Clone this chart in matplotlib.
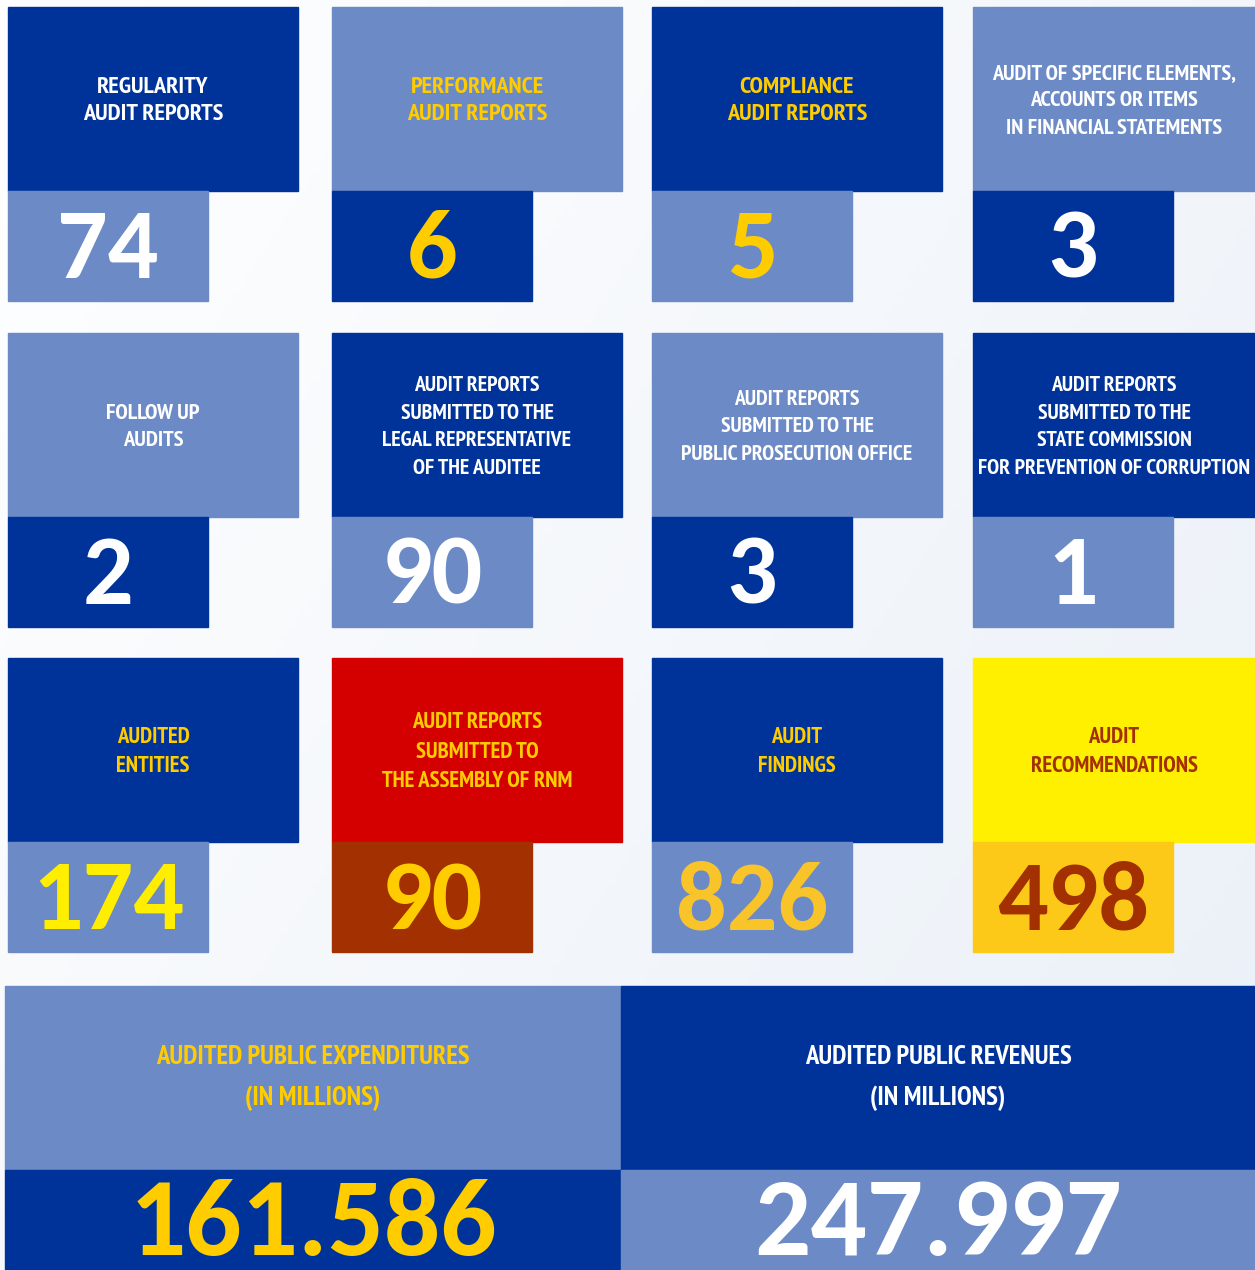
import numpy as np
import matplotlib.pyplot as plt
from matplotlib.colors import LinearSegmentedColormap
from matplotlib.patches import Rectangle

# -----------------------------
# Data
# -----------------------------
titles = [
    "REGULARITY\nAUDIT REPORTS",
    "PERFORMANCE\nAUDIT REPORTS",
    "COMPLIANCE\nAUDIT REPORTS",
    "AUDIT OF SPECIFIC ELEMENTS,\nACCOUNTS OR ITEMS\nIN FINANCIAL STATEMENTS",
    "FOLLOW UP\nAUDITS",
    "AUDIT REPORTS\nSUBMITTED TO THE\nLEGAL REPRESENTATIVE\nOF THE AUDITEE",
    "AUDIT REPORTS\nSUBMITTED TO THE\nPUBLIC PROSECUTION OFFICE",
    "AUDIT REPORTS\nSUBMITTED TO THE\nSTATE COMMISSION\nFOR PREVENTION OF CORRUPTION",
    "AUDITED\nENTITIES",
    "AUDIT REPORTS\nSUBMITTED TO\nTHE ASSEMBLY OF RNM",
    "AUDIT\nFINDINGS",
    "AUDIT\nRECOMMENDATIONS",
]
values = ["74", "6", "5", "3", "2", "90", "3", "1", "174", "90", "826", "498"]

big_titles = ["AUDITED PUBLIC EXPENDITURES\n(IN MILLIONS)",
              "AUDITED PUBLIC REVENUES\n(IN MILLIONS)"]
big_values = ["161.586", "247.997"]

# colours
DARK = "#003399"
LIGHT = "#6C8AC6"
YEL = "#FFCC00"
WHITE = "#FFFFFF"

# (title bg, title text, number bg, number text)
styles = [
    (DARK, WHITE, LIGHT, WHITE),
    (LIGHT, YEL, DARK, YEL),
    (DARK, YEL, LIGHT, YEL),
    (LIGHT, WHITE, DARK, WHITE),
    (LIGHT, WHITE, DARK, WHITE),
    (DARK, WHITE, LIGHT, WHITE),
    (LIGHT, WHITE, DARK, WHITE),
    (DARK, WHITE, LIGHT, WHITE),
    (DARK, YEL, LIGHT, "#FFEE00"),
    ("#D40000", YEL, "#A33000", YEL),
    (DARK, YEL, LIGHT, "#F9C42A"),
    ("#FFF000", "#A33000", "#FCC919", "#A33000"),
]
big_styles = [(LIGHT, YEL, DARK, YEL), (DARK, WHITE, LIGHT, WHITE)]

# title font size per tile (pt)
title_sizes = [17.5, 17.5, 17.5, 16, 16.2, 15.7, 15.7, 15.7, 16.3, 16.3, 16.3, 16.3]

# -----------------------------
# Layout (pixels)
# -----------------------------
W, H = 1255, 1270
col_x = [8, 332, 652, 973]
col_w = [290, 290, 290, 282]
row_y = [7, 333, 658]
title_h = 184
num_h = 110
num_w = 200
pitch = 28  # px between title lines

TITLE_FONT = ["PT Sans Narrow", "Roboto Condensed", "DejaVu Sans"]
NUM_FONT = ["Carlito", "Open Sans", "DejaVu Sans"]


def spacing(size_pt, px):
    # matplotlib line step is about 0.82 em * linespacing for this font
    return px / (0.82 * size_pt * 100 / 72)


fig = plt.figure(figsize=(W / 100, H / 100), dpi=100)
ax = fig.add_axes([0, 0, 1, 1])
ax.set_xlim(0, W)
ax.set_ylim(H, 0)
ax.axis("off")

# soft background gradient
gx, gy = np.meshgrid(np.linspace(0, 1, 200), np.linspace(0, 1, 200))
grad = 0.6 * gx + 0.4 * gy
bg_cmap = LinearSegmentedColormap.from_list("bg", ["#FFFFFF", "#EAF0F8"])
ax.imshow(grad, extent=[0, W, H, 0], cmap=bg_cmap, aspect="auto", zorder=0)

for i, (t, v) in enumerate(zip(titles, values)):
    r, c = divmod(i, 4)
    x0, y0, w = col_x[c], row_y[r], col_w[c]
    tbg, tfg, nbg, nfg = styles[i]
    fs = title_sizes[i]
    ax.add_patch(Rectangle((x0, y0), w, title_h, color=tbg, zorder=1))
    ax.add_patch(Rectangle((x0, y0 + title_h), num_w, num_h, color=nbg, zorder=1))
    ax.text(x0 + w / 2, y0 + title_h / 2 + 2, t, ha="center", va="center",
            color=tfg, fontsize=fs, fontweight="bold", family=TITLE_FONT,
            linespacing=spacing(fs, pitch), zorder=2)
    ax.text(x0 + num_w / 2, y0 + title_h + 87, v, ha="center", va="baseline",
            color=nfg, fontsize=72, fontweight="bold", family=NUM_FONT, zorder=2)

big_x = [5, 621]
big_w = [616, 634]
for j in range(2):
    tbg, tfg, nbg, nfg = big_styles[j]
    x0, y0 = big_x[j], 986
    ax.add_patch(Rectangle((x0, y0), big_w[j], title_h, color=tbg, zorder=1))
    ax.add_patch(Rectangle((x0, y0 + title_h), big_w[j], H - y0 - title_h,
                           color=nbg, zorder=1))
    ax.text(x0 + big_w[j] / 2, y0 + 92, big_titles[j], ha="center", va="center",
            color=tfg, fontsize=19.2, fontweight="bold", family=TITLE_FONT,
            linespacing=spacing(19.2, 42) * 0.95, zorder=2)
    ax.text(x0 + big_w[j] / 2, y0 + title_h + 85, big_values[j], ha="center",
            va="baseline", color=nfg, fontsize=80, fontweight="bold",
            family=NUM_FONT, zorder=2)

fig.savefig("out.png", dpi=100)
